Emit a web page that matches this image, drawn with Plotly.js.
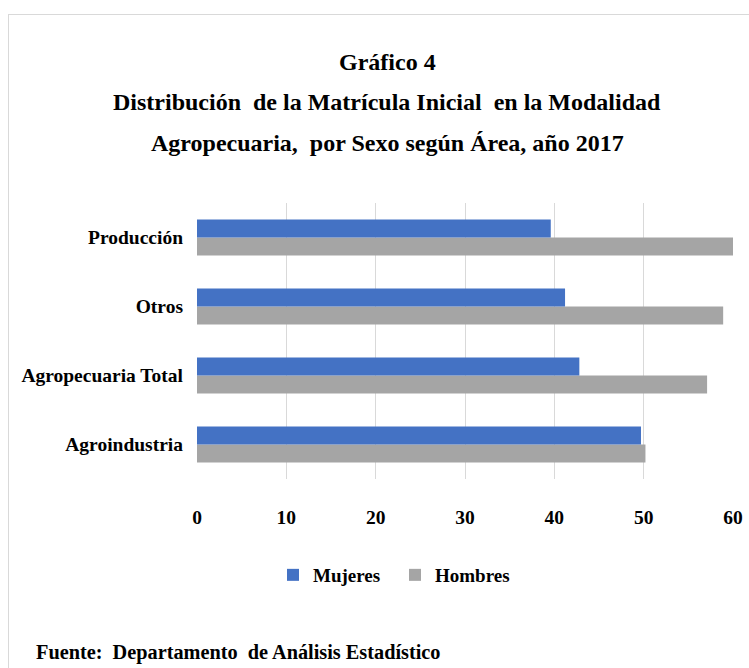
<!DOCTYPE html>
<html>
<head>
<meta charset="utf-8">
<script src="https://cdn.plot.ly/plotly-3.0.1.min.js"></script>
<style>
  html, body { margin: 0; padding: 0; background: #fff; }
  #frame { position: absolute; left: 8px; top: 14px; width: 760px; height: 680px; border: 1px solid #d9d9d9; }
  #chart { position: absolute; left: 0; top: 0; width: 749px; height: 668px; }
</style>
</head>
<body>
<div id="frame"></div>
<div id="chart"></div>
<script>
const categories = ['Agroindustria', 'Agropecuaria Total', 'Otros', 'Producción'];
const mujeres = [49.7, 42.8, 41.2, 39.6];
const hombres = [50.2, 57.1, 58.9, 60.0];
const seriesNames = ['Mujeres', 'Hombres'];
const tickVals = [0, 10, 20, 30, 40, 50, 60];
const titleLines = [
  'Gráfico 4',
  'Distribución  de la Matrícula Inicial  en la Modalidad',
  'Agropecuaria,  por Sexo según Área, año 2017'
];
const sourceText = 'Fuente:  Departamento  de Análisis Estadístico';

const serif = 'Liberation Serif';

const traces = [
  { type: 'bar', orientation: 'h', name: seriesNames[1], y: categories, x: hombres,
    marker: { color: '#A5A5A5' }, legendrank: 2, hoverinfo: 'x+name' },
  { type: 'bar', orientation: 'h', name: seriesNames[0], y: categories, x: mujeres,
    marker: { color: '#4472C4' }, legendrank: 1, hoverinfo: 'x+name' }
];

// plot area: x 197..733, y 203..479  (height 276)
function py(p) { return (479 - p) / 276; }
function px(p) { return (p - 197) / 536; }

const annotations = titleLines.map((t, i) => ({
  text: '<b>' + t + '</b>', xref: 'paper', yref: 'paper',
  x: px(387), y: py([62, 102, 143][i]), xanchor: 'center', yanchor: 'middle',
  showarrow: false, font: { family: serif, size: 24, color: '#000' }
}));
annotations.push({
  text: '<b>' + sourceText + '</b>', xref: 'paper', yref: 'paper',
  x: px(34), y: py(652), xanchor: 'left', yanchor: 'middle',
  showarrow: false, font: { family: serif, size: 20.3, color: '#000' }
});

const layout = {
  width: 749, height: 668,
  margin: { l: 197, r: 16, t: 203, b: 189, pad: 0 },
  paper_bgcolor: 'rgba(0,0,0,0)', plot_bgcolor: '#fff',
  barmode: 'group', bargap: 0.48, bargroupgap: 0,
  showlegend: true,
  legend: { orientation: 'h', x: px(273), y: py(575), xanchor: 'left', yanchor: 'middle',
            font: { family: serif, size: 19, color: '#000', weight: 'bold' }, traceorder: 'normal',
            entrywidth: 77, itemwidth: 30 },
  xaxis: { range: [0, 60], tickvals: tickVals, ticktext: tickVals.map(v => '<b>' + v + '</b>'),
           showgrid: true, gridcolor: '#d9d9d9', gridwidth: 1,
           zeroline: false, showline: false, ticks: '', ticklabelstandoff: 24,
           tickfont: { family: serif, size: 19.5, color: '#000' }, fixedrange: true },
  yaxis: { type: 'category', categoryorder: 'array', categoryarray: categories,
           tickvals: categories, ticktext: categories.map(c => '<b>' + c + '</b>'),
           showgrid: false, zeroline: false, showline: false, ticks: '', ticklabelstandoff: 13,
           tickfont: { family: serif, size: 19.5, color: '#000' }, fixedrange: true },
  annotations: annotations
};

Plotly.newPlot('chart', traces, layout, { displayModeBar: false, staticPlot: true });
</script>
</body>
</html>
